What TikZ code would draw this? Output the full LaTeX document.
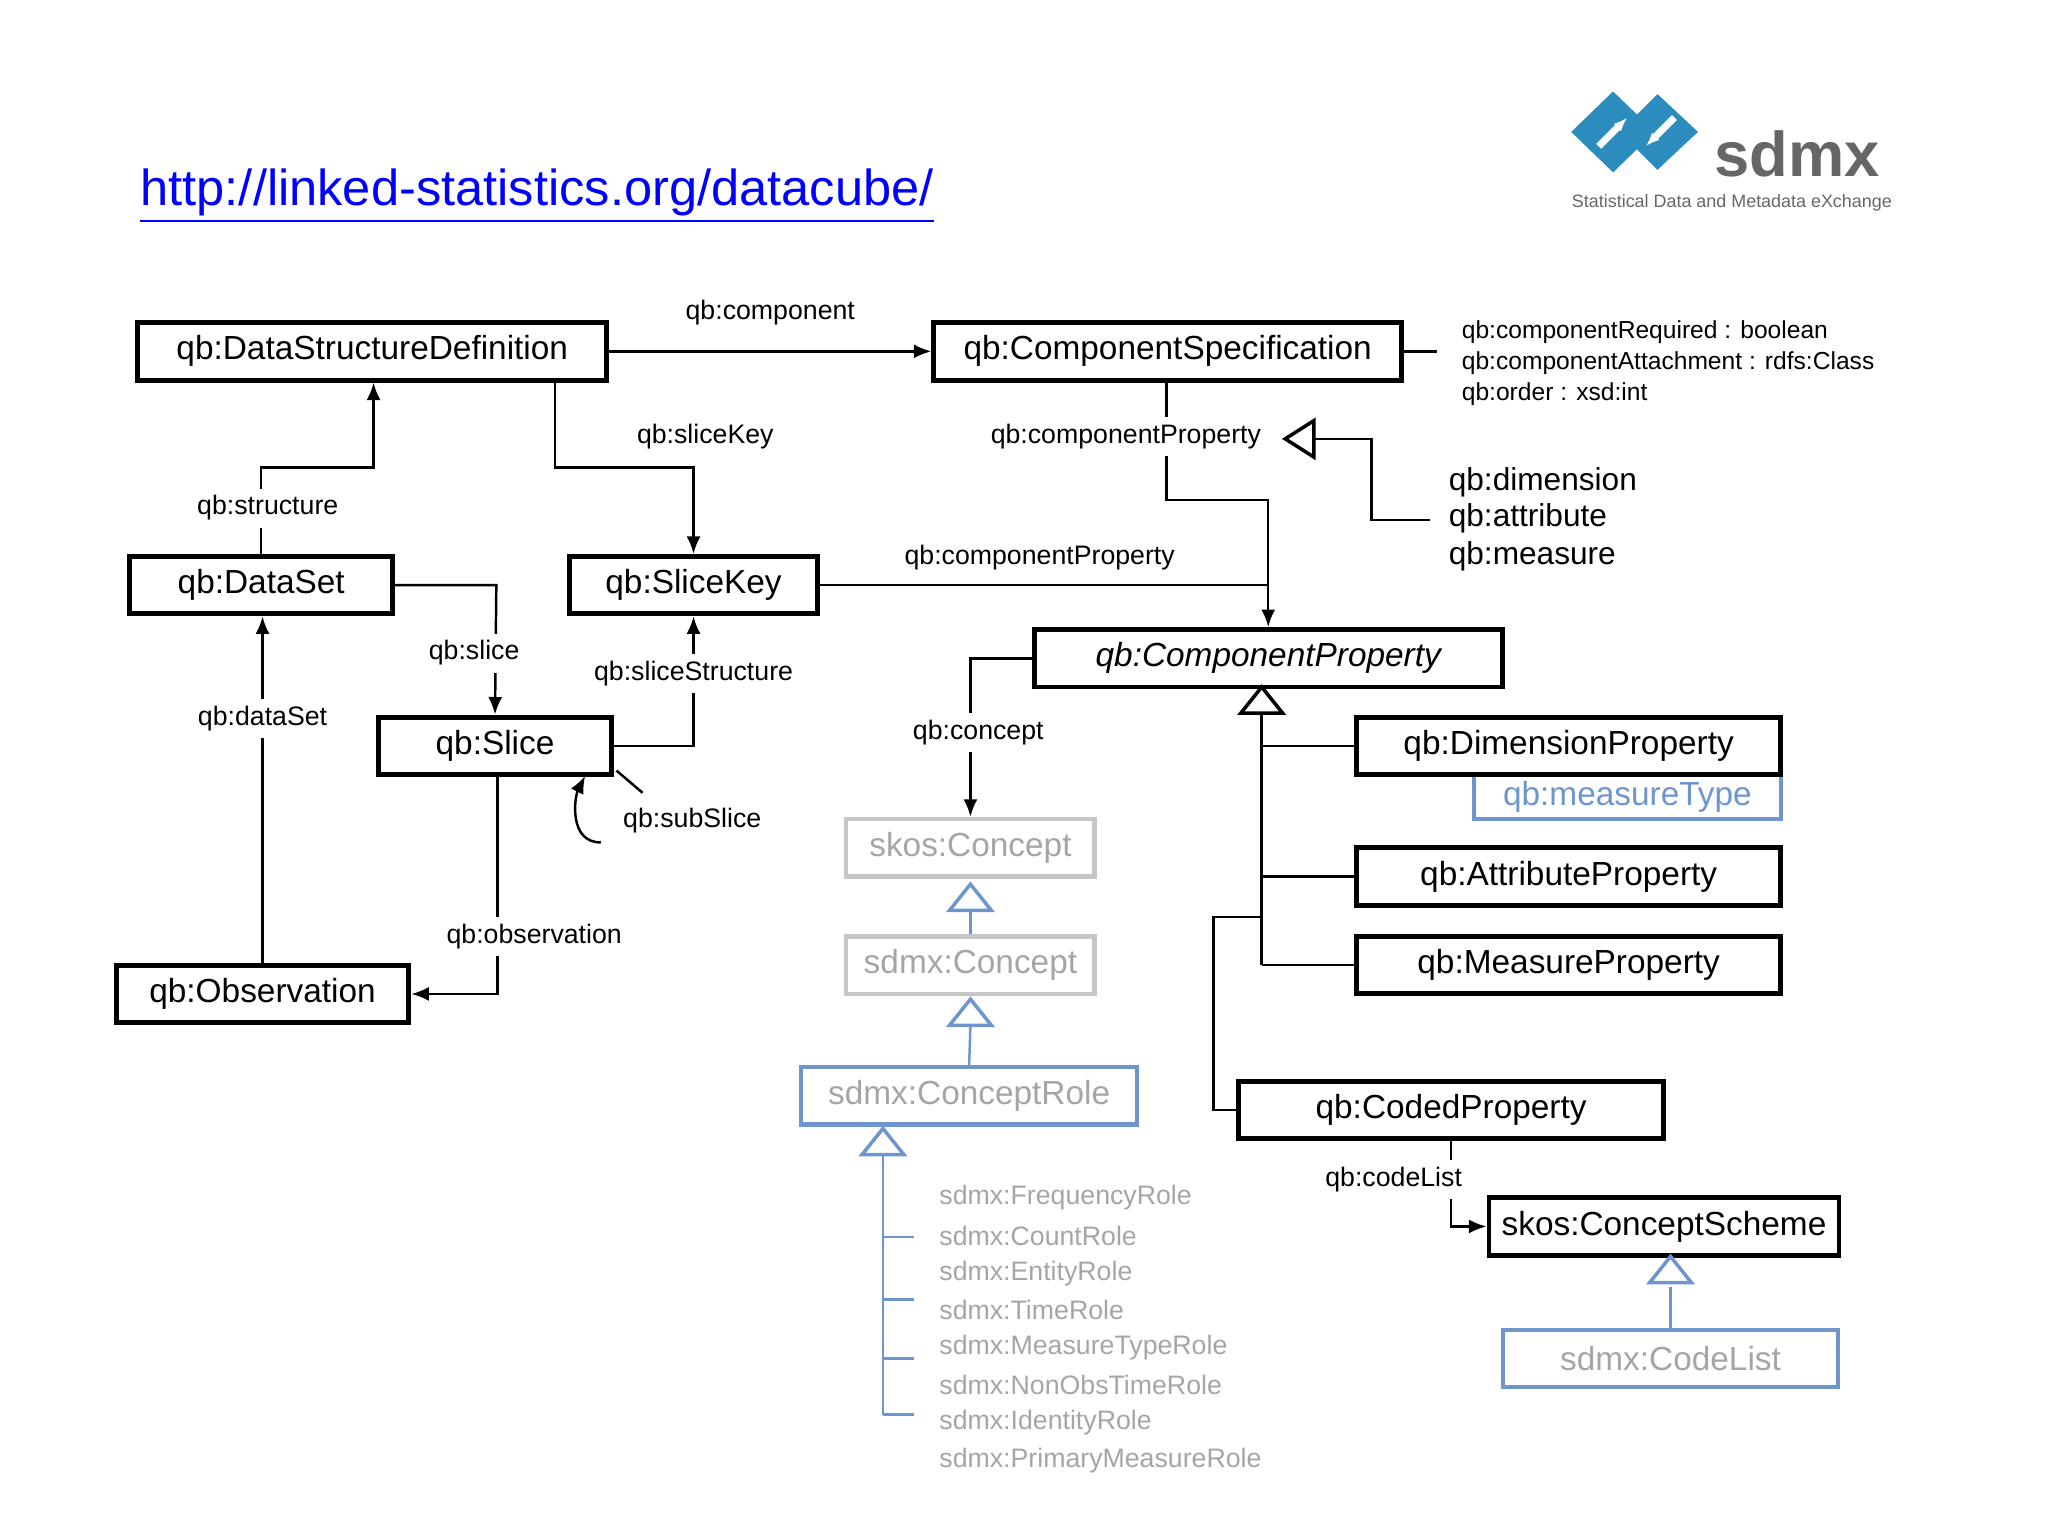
\documentclass[tikz,border=0pt]{standalone}
\usepackage{fontspec}
\setmainfont{Liberation Sans}
\usetikzlibrary{arrows.meta}
\definecolor{lb}{RGB}{110,150,205}
\definecolor{gt}{RGB}{165,165,165}
\definecolor{sd}{RGB}{45,140,190}
\begin{document}
\begin{tikzpicture}[x=0.01306cm,y=-0.01306cm,
  box/.style={draw,line width=1.4pt,minimum height=44*0.01306cm,inner sep=0pt,font=\fontsize{9.5}{11}\selectfont},
  gbox/.style={box,draw=gray!45,line width=1.2pt,text=gt},
  bbox/.style={box,draw=lb,line width=1.2pt,text=gt},
  lab/.style={font=\fontsize{7.6}{9}\selectfont,inner sep=1pt},
  wlab/.style={lab,fill=white,inner sep=2pt},
  conn/.style={line width=0.7pt},
  arr/.style={conn,-{Latex[length=5pt,width=4pt]}},
  tri/.pic={\draw[line width=1pt,fill=white,pic actions] (0,0)--(-16,20)--(16,20)--cycle;}]
\useasboundingbox (0,0) rectangle (1568,1176);
% URL
\node[anchor=west,text=blue,font=\fontsize{14.4}{16}\selectfont,inner sep=0pt] (url) at (107,150) {\underline{http://linked-statistics.org/datacube/}};
% logo
\fill[sd] (1203,101)--(1235,70)--(1267,101)--(1235,132)--cycle;
\fill[sd] (1240,101)--(1269,72)--(1300,101)--(1269,130)--cycle;
\draw[white,line width=2pt,-{Latex[length=4pt]}] (1224,112)--(1246,90);
\draw[white,line width=2pt,-{Latex[length=4pt]}] (1282,90)--(1260,112);
\node[anchor=west,text=gray!80!black,font=\bfseries\fontsize{18}{19}\selectfont,inner sep=0pt] (sdmx) at (1312,118) {sdmx};
\node[anchor=west,text=gray!80!black,font=\fontsize{5.1}{7}\selectfont,inner sep=0pt] (sdmxt) at (1203,155) {Statistical Data and Metadata eXchange};
% boxes
\node[box,minimum width=359*0.01306cm] (dsd) at (285,269) {qb:DataStructureDefinition};
\node[box,minimum width=358*0.01306cm] (cs) at (894,269) {qb:ComponentSpecification};
\node[box,minimum width=201*0.01306cm] (ds) at (200,448) {qb:DataSet};
\node[box,minimum width=190*0.01306cm] (sk) at (531,448) {qb:SliceKey};
\node[box,minimum width=358*0.01306cm,font=\itshape\fontsize{9.5}{11}\selectfont] (cp) at (971,504) {qb:ComponentProperty};
\node[box,minimum width=179*0.01306cm] (sl) at (379,571) {qb:Slice};
\node[bbox,minimum width=235*0.01306cm,minimum height=34*0.01306cm,text=lb] (mt) at (1246,610) {qb:measureType};
\node[box,minimum width=325*0.01306cm] (dp) at (1201,571) {qb:DimensionProperty};
\node[gbox,minimum width=190*0.01306cm] (sc) at (743,649) {skos:Concept};
\node[box,minimum width=325*0.01306cm] (ap) at (1201,671) {qb:AttributeProperty};
\node[gbox,minimum width=190*0.01306cm] (smc) at (743,739) {sdmx:Concept};
\node[box,minimum width=325*0.01306cm] (mp) at (1201,739) {qb:MeasureProperty};
\node[box,minimum width=224*0.01306cm] (ob) at (201,761) {qb:Observation};
\node[bbox,minimum width=257*0.01306cm] (cr) at (742,839) {sdmx:ConceptRole};
\node[box,minimum width=325*0.01306cm] (cdp) at (1111,850) {qb:CodedProperty};
\node[box,minimum width=268*0.01306cm] (csch) at (1274,939) {skos:ConceptScheme};
\node[bbox,minimum width=257*0.01306cm] (cl) at (1279,1040) {sdmx:CodeList};
% attribute text
\node[lab,anchor=west,font=\fontsize{7}{8}\selectfont] (a1) at (1116,254) {qb:componentRequired : boolean};
\node[lab,anchor=west,font=\fontsize{7}{8}\selectfont] (a2) at (1116,278) {qb:componentAttachment : rdfs:Class};
\node[lab,anchor=west,font=\fontsize{7}{8}\selectfont] (a3) at (1116,302) {qb:order : xsd:int};
\draw[conn] (cs.east)--(1100,269);
% connectors
\draw[arr] (dsd.east)--(cs.west) node[lab,midway,above=6pt] (l1) {qb:component};
\draw[arr] (ds.north)--(200,358)--(286,358)--(dsd.south-|286,0);
\node[wlab] (l2) at (205,389) {qb:structure};
\draw[arr] (425,291)--(425,358)--(531,358)--(sk.north);
\node[lab] (l3) at (540,334) {qb:sliceKey};
\draw[arr] (893,291)--(893,383)--(971,383)--(cp.north);
\node[wlab] (l4) at (862,334) {qb:componentProperty};
\draw[line width=1pt,fill=white] (984,336)--(1006,322)--(1006,350)--cycle;
\draw[conn] (1006,336)--(1050,336)--(1050,398)--(1095,398);
\node[lab,anchor=west,font=\fontsize{9}{10}\selectfont] (d1) at (1106,369) {qb:dimension};
\node[lab,anchor=west,font=\fontsize{9}{10}\selectfont] (d2) at (1106,397) {qb:attribute};
\node[lab,anchor=west,font=\fontsize{9}{10}\selectfont] (d3) at (1106,426) {qb:measure};
\draw[conn] (sk.east)--(971,448);
\node[lab] (l5) at (796,427) {qb:componentProperty};
\draw[arr] (ds.east)--(380,448)--(sl.north);
\node[wlab] (l6) at (363,500) {qb:slice};
\draw[arr] (sl.east)--(531,571)--(sk.south);
\node[wlab] (l7) at (531,516) {qb:sliceStructure};
\draw[conn] (472,590)--(492,607);
\draw[arr] (460,645) .. controls (435,645) and (440,610) .. (448,594);
\node[lab] (l8) at (530,628) {qb:subSlice};
\draw[arr] (ob.north)--(ds.south-|201,0);
\node[wlab] (l9) at (201,550) {qb:dataSet};
\draw[arr] (381,593)--(381,761)--(ob.east);
\node[wlab] (l10) at (409,717) {qb:observation};
\draw[arr] (cp.west)--(743,504)--(sc.north);
\node[wlab] (l11) at (749,561) {qb:concept};
\draw[conn,lb] (smc.north)--(743,697);
\pic[draw=lb] at (743,677) {tri};
\draw[conn,lb] (cr.north)--(743,785);
\pic[draw=lb] at (743,765) {tri};
% role list
\pic[draw=lb] at (676,864) {tri};
\draw[conn,lb] (676,884)--(676,1083);
\foreach \yy in {947,995,1040,1083} \draw[conn,lb] (676,\yy)--(700,\yy);
\foreach \t/\yy in {FrequencyRole/917,CountRole/946,EntityRole/975,TimeRole/1003,MeasureTypeRole/1032,NonObsTimeRole/1060,IdentityRole/1089,PrimaryMeasureRole/1118}
  \node[lab,anchor=west,text=gt] at (716,\yy) {sdmx:\t};
% generalization to CP
\pic at (966,526) {tri};
\draw[conn] (966,546)--(966,739);
\draw[conn] (966,571)--(dp.west);
\draw[conn] (966,671)--(ap.west);
\draw[conn] (966,739)--(mp.west);
\draw[conn] (cdp.west)--(929,850)--(929,702)--(966,702);
% coded property
\draw[arr] (cdp.south-|1111,0)--(1111,939)--(csch.west);
\node[wlab] (l12) at (1067,903) {qb:codeList};
\draw[conn,lb] (cl.north)--(1279,985);
\pic[draw=lb] at (1279,962) {tri};
\end{tikzpicture}
\end{document}
